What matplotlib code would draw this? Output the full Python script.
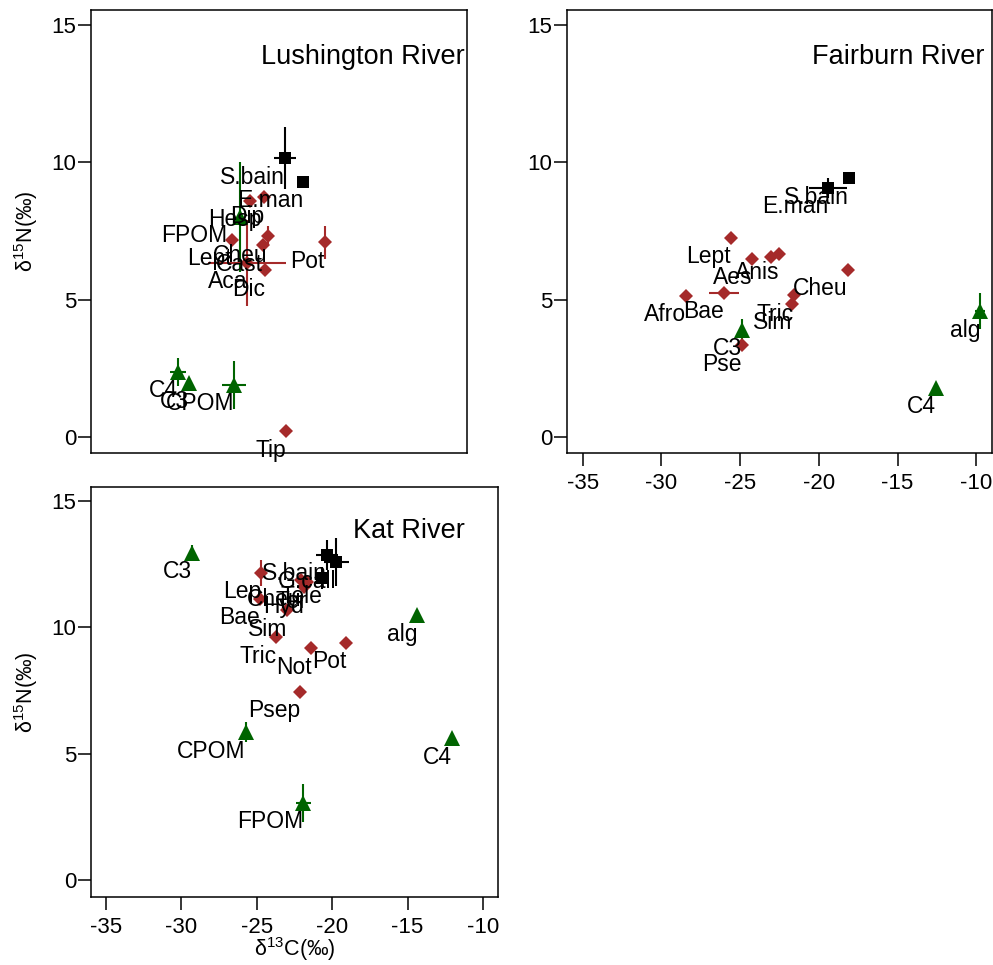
import matplotlib
matplotlib.use('Agg')
import matplotlib.pyplot as plt
import numpy as np

plt.rcParams['font.family'] = ['Liberation Sans', 'DejaVu Sans']
plt.rcParams['mathtext.fontset'] = 'custom'
plt.rcParams['mathtext.rm'] = 'Liberation Sans'
plt.rcParams['axes.unicode_minus'] = False

# Lushington River
lush_names = ['S.bain', 'E.man', 'Dip', 'Hesp', 'Cheu', 'Lept', 'Cast', 'Aca', 'Dic', 'Pot', 'Tip',
              'FPOM', 'C4', 'C3', 'CPOM']
lush_kind = ['f', 'f', 'i', 'i', 'i', 'i', 'i', 'i', 'i', 'i', 'i', 's', 's', 's', 's']
lush_d13c = [-22.07, -20.78, -23.58, -24.59, -23.29, -25.88, -23.65, -24.80, -23.51, -19.20, -22.00,
             -25.30, -29.75, -28.96, -25.73]
lush_d15n = [10.16, 9.29, 8.74, 8.60, 7.32, 7.18, 6.99, 6.34, 6.08, 7.10, 0.22,
             8.02, 2.37, 1.97, 1.90]
lush_sd13c = [0.8, 0.45, 0, 0, 0, 0, 0, 2.8, 0, 0, 0, 0, 0.6, 0, 0.83]
lush_sd15n = [1.13, 0.15, 0, 0, 0.35, 0, 0, 1.55, 0, 0.6, 0, 2.0, 0.5, 0, 0.87]

# Fairburn River
fair_names = ['S.bain', 'E.man', 'Lept', 'Aes', '', 'Anis', 'Cheu', 'Bae', 'Afro', 'Tric', 'Sim', 'Pse',
              'C3', 'alg', 'C4']
fair_kind = ['f', 'f', 'i', 'i', 'i', 'i', 'i', 'i', 'i', 'i', 'i', 'i', 's', 's', 's']
fair_d13c = [-18.08, -19.42, -25.58, -24.25, -23.04, -22.53, -18.15, -26.03, -28.44, -21.58, -21.70, -24.88,
             -24.88, -9.76, -12.56]
fair_d15n = [9.43, 9.07, 7.25, 6.49, 6.56, 6.67, 6.09, 5.25, 5.14, 5.17, 4.85, 3.35,
             3.90, 4.59, 1.79]
fair_sd13c = [0.4, 1.2, 0, 0, 0, 0, 0, 0.93, 0, 0.3, 0, 0, 0, 0.3, 0]
fair_sd15n = [0.1, 0.35, 0, 0, 0, 0, 0, 0, 0, 0, 0, 0, 0.4, 0.67, 0]

# Kat River
kat_names = ['S.bain', 'G.call', 'Tele', 'Lep', 'Cheu', 'Ter', 'Hyd', 'Bae', 'Sim', 'Tric', 'Not', 'Pot',
             'Psep', 'C3', 'alg', 'C4', 'CPOM', 'FPOM']
kat_kind = ['f', 'f', 'f', 'i', 'i', 'i', 'i', 'i', 'i', 'i', 'i', 'i', 'i', 's', 's', 's', 's', 's']
kat_d13c = [-20.33, -19.73, -20.66, -24.69, -22.04, -21.65, -21.85, -24.82, -22.97, -23.70, -21.38, -19.07,
            -22.11, -29.32, -14.37, -12.06, -25.75, -21.91]
kat_d15n = [12.86, 12.58, 11.95, 12.15, 11.87, 11.79, 11.59, 11.12, 10.68, 9.61, 9.18, 9.38,
            7.44, 12.94, 10.48, 5.62, 5.85, 3.05]
kat_sd13c = [0.73, 0.83, 0.4, 0, 0, 0, 0, 0, 0, 0, 0, 0, 0, 0, 0, 0, 0, 0.5]
kat_sd15n = [0.6, 0.95, 0.45, 0.5, 0, 0, 0, 0, 0, 0, 0, 0, 0, 0.3, 0.2, 0, 0.4, 0.75]

# marker style per group: fish, invertebrates, sources
styles = {'f': ('s', 'black', 9),
          'i': ('D', '#A52A2A', 7.5),
          's': ('^', '#006400', 11.5)}

ylab = r'$\mathregular{\delta^{15}}$N(‰)'
xlab = r'$\mathregular{\delta^{13}}$C(‰)'


def draw(ax, names, kind, x, y, sx, sy, title, tx, nudge=None):
    nudge = nudge or {}
    kind = np.array(kind)
    x, y, sx, sy = map(np.array, (x, y, sx, sy))
    for k in ['s', 'i', 'f']:
        m, c, ms = styles[k]
        sel = kind == k
        ax.errorbar(x[sel], y[sel], xerr=sx[sel], yerr=sy[sel], fmt=m, color=c, ms=ms,
                    mew=0, elinewidth=1.5, capsize=0, ls='none')
    for n, xi, yi in zip(names, x, y):
        if n:
            ax.annotate(n, (xi, yi), xytext=(nudge.get(n, 0), -19), textcoords='offset pixels',
                        ha='right', va='center', fontsize=16.5)
    ax.text(tx, 0.893, title, transform=ax.transAxes, ha='center', va='center', fontsize=19.5)
    ax.set_xlim(-36, -9)
    ax.set_xticks([-35, -30, -25, -20, -15, -10])
    ax.set_yticks([0, 5, 10, 15])
    ax.tick_params(direction='out', length=9.5, width=1.1, labelsize=16)
    ax.tick_params(axis='y', pad=1)
    ax.tick_params(axis='x', pad=5)
    for s in ax.spines.values():
        s.set_linewidth(1.1)


fig = plt.figure(figsize=(9.93, 9.65), dpi=100)
ax1 = fig.add_axes([91 / 993, 1 - 453 / 965, 376 / 993, 443 / 965])
ax2 = fig.add_axes([567 / 993, 1 - 453 / 965, 425 / 993, 443 / 965])
ax3 = fig.add_axes([91 / 993, 1 - 897 / 965, 407 / 993, 410 / 965])

draw(ax1, lush_names, lush_kind, lush_d13c, lush_d15n, lush_sd13c, lush_sd15n,
     'Lushington River', 0.724, {'Hesp': 12, 'FPOM': -13})
ax1.set_ylim(-0.58, 15.55)
ax1.tick_params(axis='x', bottom=False, labelbottom=False)
ax1.set_ylabel(ylab, fontsize=15.5, labelpad=8)

draw(ax2, fair_names, fair_kind, fair_d13c, fair_d15n, fair_sd13c, fair_sd15n,
     'Fairburn River', 0.779)
ax2.set_ylim(-0.58, 15.55)

draw(ax3, kat_names, kat_kind, kat_d13c, kat_d15n, kat_sd13c, kat_sd15n,
     'Kat River', 0.78)
ax3.set_ylim(-0.67, 15.55)
ax3.set_ylabel(ylab, fontsize=15.5, labelpad=8)
ax3.set_xlabel(xlab, fontsize=15.5, labelpad=-2)

fig.savefig('out.png', dpi=100)
